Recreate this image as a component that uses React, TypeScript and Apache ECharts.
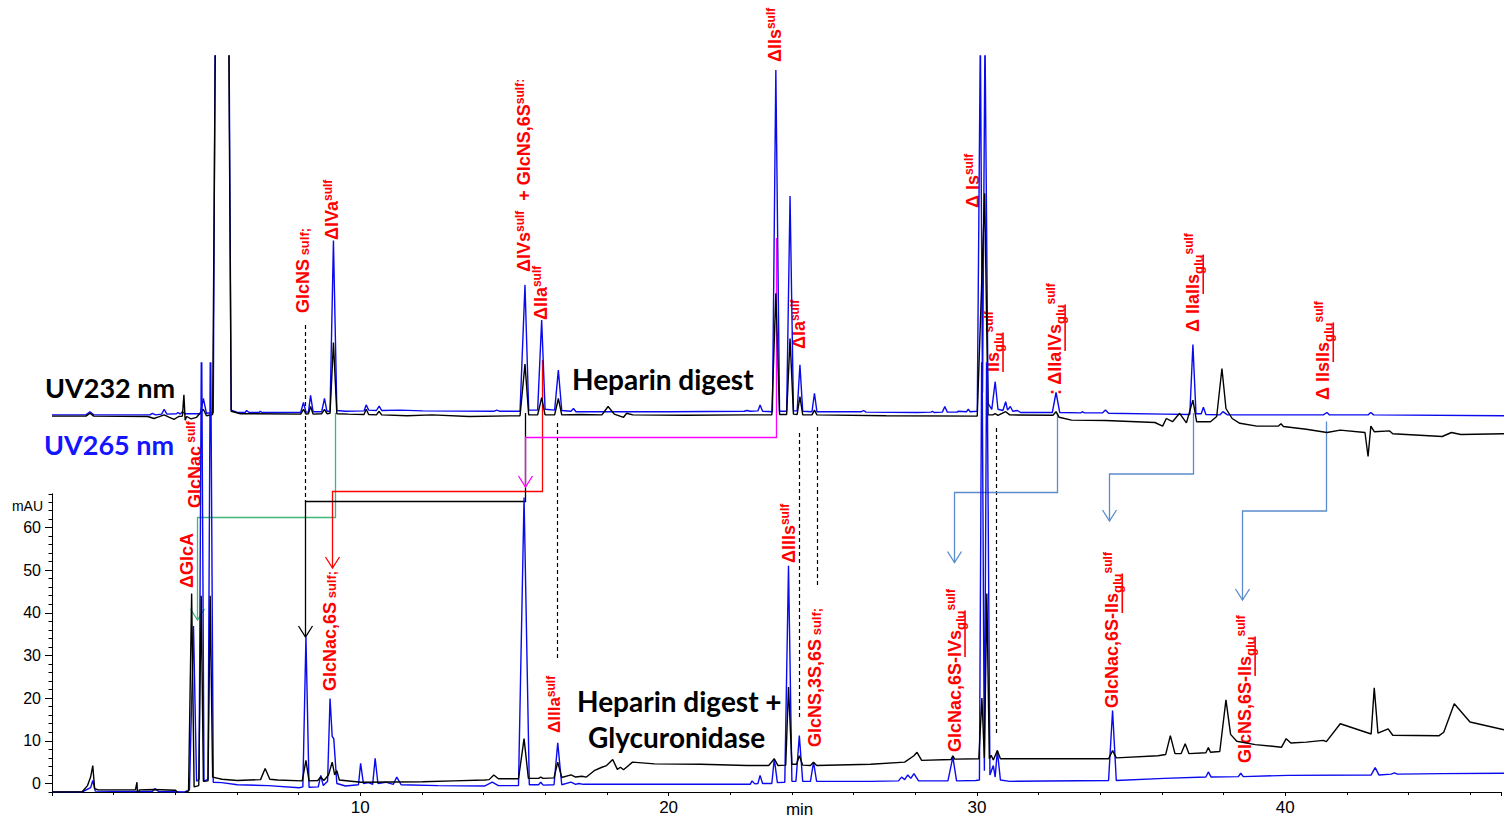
import React, { useEffect, useRef } from "react";
import * as echarts from "echarts";

// Retention-time window (min) shared by both chromatograms
const TIME_MIN = 0;
const TIME_MAX = 47;
const TIME_TICKS = [10, 20, 30, 40];
const MAU_TICKS = [0, 10, 20, 30, 40, 50, 60];

// Heparin digest, UV 232 nm  [time (min), signal]
const digest232: number[][] = [
  [0, -0.9], [1.1, -0.9], [1.23, -0.2], [1.35, -0.9], [3.1, -1.0], [3.3, -1.5], [3.45, -1.1], [3.63, -0.6],
  [3.8, -1.2], [3.95, -1.7], [4.1, -1.0], [4.22, -0.9], [4.27, 4.4], [4.31, -1.9], [4.36, -1.0], [4.5, -1.6],
  [4.68, -1.2], [4.9, 0.8], [5.0, -0.8], [5.2, -0.5], [5.29, 95], [5.72, 95], [5.8, 0.3], [6.1, -0.3],
  [8.05, -0.4], [8.14, 0.8], [8.22, -0.4], [8.3, -0.3], [8.37, 1.5], [8.45, -0.4], [8.73, -0.3], [8.82, 0.8],
  [8.9, -0.3], [9.0, -0.2], [9.11, 17.5], [9.22, -0.3], [9.6, -0.4], [10.1, -0.5], [10.17, 0.8], [10.25, -0.5],
  [10.5, -0.6], [10.59, 0.3], [10.67, -0.6], [11.5, -0.8], [12.3, -0.6], [13.5, -1.0], [15.15, -0.8],
  [15.31, 12.1], [15.43, -0.6], [15.72, -0.6], [15.85, 3.7], [15.96, -0.6], [16.27, -0.6], [16.39, 3.5],
  [16.5, -0.6], [17.1, -0.5], [17.8, -0.6], [18.0, 1.5], [18.2, -0.4], [18.5, -1.2], [18.6, -0.2], [18.8, -0.6],
  [20.5, -0.7], [22.5, -0.6], [23.3, -0.6], [23.43, 29.8], [23.55, -0.5], [23.78, -0.5], [23.89, 18.5],
  [24.0, -0.4], [24.12, -0.5], [24.21, 4.0], [24.3, -0.6], [24.6, -0.6], [24.68, 0.6], [24.76, -0.6],
  [27.0, -0.8], [29.95, -0.9], [30.19, 54.8], [30.3, -0.6], [30.45, -0.6], [30.53, -0.3], [30.62, -0.7],
  [30.87, 0.2], [31.0, -0.6], [32.4, -0.7], [32.5, 0.2], [32.6, -1.2], [33.0, -1.9], [34.1, -2.0], [35.7, -2.5],
  [35.95, -3.4], [36.07, -1.5], [36.27, -2.3], [36.5, -0.2], [36.72, -2.6], [36.93, 3.1], [37.05, -2.3],
  [37.5, -2.3], [37.7, -1.0], [37.87, 11.0], [38.0, 1.0], [38.2, -1.5], [38.45, -2.7], [39.0, -3.4],
  [39.7, -3.4], [39.78, -2.8], [39.86, -3.5], [40.6, -4.2], [41.27, -5.0], [41.7, -4.4], [42.5, -5.0],
  [42.6, -11], [42.69, -3.4], [42.8, -4.8], [43.3, -4.6], [43.4, -5.3], [45.0, -6.0], [45.3, -5.0],
  [45.6, -5.5], [47, -5.3],
];

// Heparin digest, UV 265 nm
const digest265: number[][] = [
  [0, -0.6], [1.1, -0.6], [1.23, 0.2], [1.35, -0.6], [3.17, -0.6], [3.25, -0.2], [3.35, -0.6], [3.55, -0.4],
  [3.63, 0.8], [3.72, -0.4], [4.03, -0.3], [4.08, 0.0], [4.15, -0.4], [4.22, 0.2], [4.3, -0.3], [4.8, -0.3],
  [4.9, 3.5], [5.0, -0.2], [5.22, 0.0], [5.28, 95], [5.73, 95], [5.8, 0.6], [6.0, 0.0], [6.25, 0.0],
  [6.3, 0.5], [6.38, 0.0], [6.7, 0.0], [6.74, 0.3], [6.8, 0.0], [8.05, 0.0], [8.14, 2.5], [8.22, 0.1],
  [8.3, 0.1], [8.37, 4.3], [8.45, 0.2], [8.73, 0.2], [8.82, 3.5], [8.9, 0.3], [9.0, 0.3], [9.11, 43],
  [9.22, 0.5], [9.5, 0.3], [10.1, 0.4], [10.17, 1.9], [10.25, 0.6], [10.5, 0.5], [10.59, 1.6], [10.67, 0.5],
  [11.27, 0.6], [12.0, 0.4], [14.3, 0.3], [14.4, 0.6], [14.5, 0.3], [15.15, 0.3], [15.31, 31.9], [15.43, 0.6],
  [15.72, 0.6], [15.85, 23.1], [15.96, 0.8], [16.27, 0.6], [16.39, 10.6], [16.5, 0.5], [16.8, 0.3],
  [16.88, 1.0], [16.96, 0.2], [18.0, 0.2], [20.0, 0.2], [22.4, 0.3], [22.5, 0.5], [22.6, 0.3], [22.85, 0.4],
  [22.92, 1.9], [23.0, 0.3], [23.32, 0.2], [23.43, 85.6], [23.55, 0.3], [23.78, 0.3], [23.89, 54.1],
  [24.0, 0.4], [24.12, 0.4], [24.21, 11.9], [24.3, 0.3], [24.6, 0.2], [24.68, 4.8], [24.76, 0.2],
  [26.2, 0.2], [26.27, 0.5], [26.35, 0.1], [28.0, 0.0], [28.45, 0.1], [28.5, 0.3], [28.55, 0.0],
  [28.82, 0.1], [28.9, 1.5], [28.98, 0.1], [29.3, 0.1], [29.33, 0.3], [29.6, 0.2], [29.66, 0.8],
  [29.72, 0.2], [29.95, 0.3], [30.05, 95], [30.12, 5], [30.2, 95], [30.3, 2.3], [30.42, 0.8], [30.53, 7.7],
  [30.62, 0.8], [30.78, 0.5], [30.87, 2.7], [30.93, 0.6], [31.02, 1.5], [31.1, 0.3], [31.25, 0.5],
  [31.35, 0.0], [32.38, 0.0], [32.5, 5.0], [32.62, 0.0], [33.3, -0.1], [33.35, 0.2], [33.42, -0.1],
  [34.0, -0.1], [34.1, 0.6], [34.2, -0.2], [36.0, -0.4], [36.83, -0.5], [36.93, 17.0], [37.03, -0.3],
  [37.2, -0.3], [37.27, 1.3], [37.35, -0.5], [37.8, -0.6], [37.9, 0.2], [38.05, -0.6], [41.15, -0.6],
  [41.27, 0.0], [41.35, -0.6], [42.6, -0.6], [42.69, 0.0], [42.78, -0.6], [47, -0.8],
];

// Heparin digest + glycuronidase, UV 232 nm (mAU)
const glycuronidase232: number[][] = [
  [0, -2.0], [0.97, -2.0], [1.15, -0.5], [1.25, 1.5], [1.32, 4.2], [1.38, -1.2], [1.5, -1.5], [2.7, -1.5],
  [2.75, 0.3], [2.78, -4.7], [2.82, -1.5], [3.3, -1.4], [4.0, -1.6], [4.15, -2.8], [4.28, -4.7], [4.32, -2.0],
  [4.42, -1.8], [4.52, 44.5], [4.6, -0.8], [4.75, -0.5], [4.83, 44], [4.9, 0.5], [5.05, 0.6], [5.12, 44],
  [5.2, 1.5], [5.5, 1.0], [6.0, 0.7], [6.75, 0.9], [6.9, 3.5], [7.05, 1.0], [7.3, 0.8], [8.1, 0.6],
  [8.22, 5.4], [8.32, 0.6], [8.6, 0.7], [8.7, 1.5], [8.8, 0.7], [8.95, 2.0], [9.07, 5.0], [9.15, 2.0],
  [9.22, 3.0], [9.3, 0.8], [10.0, 0.3], [12.0, 0.4], [13.0, 0.6], [14.0, 0.8], [14.15, 0.9], [14.3, 2.0],
  [14.45, 1.1], [15.1, 1.1], [15.28, 10.5], [15.42, 1.2], [15.75, 1.2], [15.82, 1.5], [15.9, 1.2],
  [16.25, 1.3], [16.37, 5.0], [16.5, 1.4], [16.8, 2.0], [16.95, 1.5], [17.15, 1.7], [17.3, 1.5],
  [17.55, 3.0], [17.8, 3.8], [17.95, 4.2], [18.15, 5.6], [18.3, 3.3], [18.4, 3.8], [18.5, 3.2], [18.79, 5.0],
  [19.5, 4.6], [21.0, 4.5], [22.5, 4.2], [23.2, 4.2], [23.38, 5.8], [23.5, 4.2], [23.75, 4.3], [23.84, 22.6],
  [23.95, 4.5], [24.1, 4.5], [24.19, 6.5], [24.3, 4.3], [24.55, 4.2], [24.65, 5.0], [24.75, 4.2],
  [26.5, 4.5], [27.6, 5.0], [27.9, 6.5], [28.0, 7.3], [28.15, 5.4], [29.1, 5.6], [29.16, 6.5], [29.22, 5.7],
  [30.0, 5.8], [30.1, 20], [30.18, 6.0], [30.26, 44.5], [30.34, 5.8], [30.4, 6.6], [30.47, 5.5], [30.6, 7.7],
  [30.7, 5.8], [32.0, 5.8], [34.2, 5.8], [34.33, 7.7], [34.45, 6.0], [35.8, 6.5], [36.05, 6.8], [36.2, 11.2],
  [36.35, 7.0], [36.55, 7.0], [36.68, 9.3], [36.8, 7.0], [37.35, 7.2], [37.43, 8.4], [37.5, 7.3], [37.8, 7.5],
  [38.0, 19.6], [38.15, 11.5], [38.35, 9.9], [38.95, 9.1], [39.8, 8.5], [39.95, 10.5], [40.1, 9.5],
  [40.6, 9.7], [41.15, 10.1], [41.25, 9.8], [41.7, 14.0], [42.7, 11.6], [42.8, 22.4], [42.92, 11.8],
  [43.25, 12.8], [43.4, 11.3], [44.9, 11.2], [45.05, 12.0], [45.39, 18.7], [45.9, 14.4], [47, 12.6],
];

// Heparin digest + glycuronidase, UV 265 nm (mAU)
const glycuronidase265: number[][] = [
  [0, -2.0], [0.97, -2.0], [1.25, -1.0], [1.32, 0.7], [1.4, -1.8], [2.5, -1.9], [3.25, -1.9], [3.33, -1.2],
  [3.45, -1.9], [4.3, -2.0], [4.45, -1.5], [4.58, 36.9], [4.68, 0.5], [4.76, 1.0], [4.84, 110], [4.92, 0.5],
  [5.05, 1.0], [5.13, 110], [5.22, 0.3], [5.5, 0.2], [6.0, -0.3], [7.0, -0.5], [8.0, -1.0], [8.12, -0.8],
  [8.22, 34.3], [8.32, -0.9], [8.62, -0.8], [8.7, 1.9], [8.78, -0.5], [8.92, 0.5], [9.0, 19.9], [9.07, 11.0],
  [9.12, 10.5], [9.22, 0.0], [9.5, -0.6], [9.92, -0.3], [9.99, 4.7], [10.08, 0.0], [10.25, 0.2],
  [10.38, -0.2], [10.46, 5.9], [10.55, 0.0], [10.8, 0.3], [11.05, -0.2], [11.16, 1.5], [11.3, -0.3],
  [12.5, -0.5], [14.0, -0.6], [14.25, 0.3], [14.45, -0.5], [15.1, -0.5], [15.28, 67], [15.45, -0.3],
  [15.75, -0.3], [15.82, 0.3], [15.9, -0.4], [16.25, -0.3], [16.37, 9.5], [16.5, -0.3], [16.8, 0.3],
  [16.95, -0.2], [17.05, 0.0], [17.2, -0.2], [20.0, -0.2], [22.6, -0.2], [22.66, 0.6], [22.75, -0.1],
  [22.85, 0.0], [22.92, 1.9], [23.0, 0.0], [23.3, 0.0], [23.38, 5.8], [23.48, 0.2], [23.72, 0.3],
  [23.84, 51], [23.95, 0.5], [24.08, 0.5], [24.19, 11.2], [24.3, 0.5], [24.55, 0.5], [24.65, 5.0],
  [24.75, 0.5], [26.5, 0.5], [27.4, 0.6], [27.5, 1.5], [27.6, 0.9], [27.7, 2.0], [27.8, 1.2], [27.9, 2.3],
  [28.05, 0.6], [29.0, 0.6], [29.16, 6.2], [29.28, 0.6], [29.9, 0.7], [30.02, 0.8], [30.1, 110], [30.18, 3.0],
  [30.26, 110], [30.36, 2.0], [30.47, 4.2], [30.53, 1.5], [30.6, 7.7], [30.7, 0.8], [31.0, 0.5],
  [34.2, 0.7], [34.33, 17.1], [34.45, 0.7], [36.0, 1.2], [37.35, 1.5], [37.43, 2.7], [37.52, 1.5],
  [38.4, 1.6], [38.48, 2.4], [38.56, 1.6], [40.0, 1.9], [42.7, 2.0], [42.83, 3.7], [42.95, 2.0],
  [43.35, 2.2], [43.45, 2.5], [43.55, 2.2], [45.0, 2.3], [47, 2.4],
];

// Peak annotations: [text, kind, underlined]
// kind: m = main, s = small on the baseline, p = superscript, b = subscript
type Seg = [string, "m" | "s" | "p" | "b", boolean?];
type PeakLabel = { chart: 0 | 1; at: number; base: number; size?: number; segs: Seg[] };

const peakLabels: PeakLabel[] = [
  { chart: 1, at: 4.37, base: 588, segs: [["ΔGlcA", "m"]] },
  { chart: 1, at: 4.63, base: 508, segs: [["GlcNac", "m"], [" sulf", "p"]] },
  { chart: 1, at: 9.0, base: 691, segs: [["GlcNac,6S", "m"], [" sulf;", "s"]] },
  { chart: 1, at: 16.28, base: 733, size: 17, segs: [["ΔIIIa", "m"], ["sulf", "p"]] },
  { chart: 1, at: 23.86, base: 563, segs: [["ΔIIIs", "m"], ["sulf", "p"]] },
  { chart: 1, at: 24.7, base: 747, segs: [["GlcNS,3S,6S", "m"], [" sulf;", "s"]] },
  { chart: 1, at: 29.23, base: 752, segs: [["GlcNac,6S-", "m"], ["IVs", "m", true], ["glu", "b", true], ["sulf", "p"]] },
  { chart: 1, at: 34.32, base: 708, segs: [["GlcNac,6S-", "m"], ["IIs", "m", true], ["glu", "b", true], ["sulf", "p"]] },
  { chart: 1, at: 38.62, base: 763, segs: [["GlcNS,6S-", "m"], ["IIs", "m", true], ["glu", "b", true], ["sulf", "p"]] },
  { chart: 0, at: 8.13, base: 313, segs: [["GlcNS", "m"], [" sulf;", "s"]] },
  { chart: 0, at: 9.06, base: 240, segs: [["ΔIVa", "m"], ["sulf", "p"]] },
  { chart: 0, at: 15.28, base: 272, segs: [["ΔIVs", "m"], ["sulf", "p"], ["  + GlcNS,6S", "m"], ["sulf:", "p"]] },
  { chart: 0, at: 15.83, base: 320, segs: [["ΔIIa", "m"], ["sulf", "p"]] },
  { chart: 0, at: 23.41, base: 62, segs: [["ΔIIs", "m"], ["sulf", "p"]] },
  { chart: 0, at: 24.18, base: 349, segs: [["ΔIa", "m"], ["sulf", "p"]] },
  { chart: 0, at: 29.82, base: 208, segs: [["Δ Is", "m"], ["sulf", "p"]] },
  { chart: 0, at: 30.46, base: 372, segs: [["IIs", "m", true], ["glu", "b", true], ["sulf", "p"]] },
  { chart: 0, at: 32.47, base: 395, segs: [[": ΔIIa", "m"], ["IVs", "m", true], ["glu", "b", true], ["sulf", "p"]] },
  { chart: 0, at: 36.94, base: 332, segs: [["Δ IIa", "m"], ["IIs", "m", true], ["glu", "b", true], ["sulf", "p"]] },
  { chart: 0, at: 41.15, base: 400, segs: [["Δ IIs", "m"], ["IIs", "m", true], ["glu", "b", true], ["sulf", "p"]] },
];

// Digest peak -> glycuronidase product arrows (times in min, heights in px)
const GREEN = "#3cb878";
const RED = "#ff0000";
const MAGENTA = "#ff00ff";
const STEEL = "#5b8ccc";
const peakLinks = [
  { from: 9.16, to: 4.68, y0: 413, y1: 517.5, y2: 620, color: GREEN },
  { from: 15.85, to: 9.06, y0: 360, y1: 491.5, y2: 568, color: RED },
  { from: 15.31, to: 8.19, y0: 413, y1: 501.5, y2: 637, color: "#000000" },
  { from: 23.44, to: 15.3, y0: 238, y1: 437.5, y2: 487, color: MAGENTA },
  { from: 32.52, to: 29.2, y0: 413, y1: 492.5, y2: 562.5, color: STEEL },
  { from: 36.92, to: 34.22, y0: 413, y1: 474, y2: 521, color: STEEL },
  { from: 41.24, to: 38.53, y0: 421.5, y1: 511, y2: 600, color: STEEL },
];

// Dashed guides for peaks shared by both runs
const guides = [
  { at: 8.19, y1: 325, y2: 502 },
  { at: 16.35, y1: 423, y2: 660 },
  { at: 24.18, y1: 433, y2: 720 },
  { at: 24.77, y1: 427, y2: 587 },
  { at: 30.55, y1: 428, y2: 735 },
];

const TRACE_BLUE = "#0a0aee";
const LABEL_FAMILY = '"Liberation Sans", Arial, sans-serif';
const TITLE_FAMILY = 'Lato, "Open Sans", sans-serif';

let measureCtx: CanvasRenderingContext2D | null = null;
function textWidth(text: string, font: string): number {
  if (!measureCtx) measureCtx = document.createElement("canvas").getContext("2d");
  if (!measureCtx) return text.length * 9;
  measureCtx.font = font;
  return measureCtx.measureText(text).width;
}

function buildPeakLabel(lbl: PeakLabel, px: number) {
  const children: any[] = [];
  let pos = 0;
  for (const [text, kind, underline] of lbl.segs) {
    const size = kind === "m" ? lbl.size ?? 18 : kind === "p" ? 12 : 13;
    const dy = kind === "m" ? 0 : kind === "s" ? 1.5 : kind === "b" ? 5 : -4;
    const font = `bold ${size}px ${LABEL_FAMILY}`;
    const w = textWidth(text, font);
    children.push({
      type: "text",
      x: pos,
      y: dy,
      silent: true,
      style: {
        text,
        font,
        fill: RED,
        textAlign: "left",
        textVerticalAlign: "middle",
        align: "left",
        verticalAlign: "middle",
      },
    });
    if (underline) {
      children.push({
        type: "rect",
        silent: true,
        shape: { x: pos, y: 9.2, width: w, height: 1.6 },
        style: { fill: RED },
      });
    }
    pos += w;
  }
  return { type: "group", x: px, y: lbl.base, rotation: Math.PI / 2, children };
}

function plainText(text: string, x: number, y: number, font: string, fill: string, align = "left") {
  return {
    type: "text",
    x,
    y,
    silent: true,
    style: { text, font, fill, textAlign: align, align, textVerticalAlign: "middle", verticalAlign: "middle" },
  };
}

const hiddenX = (gridIndex: number) => ({
  type: "value" as const,
  gridIndex,
  min: TIME_MIN,
  max: TIME_MAX,
  show: false,
});

function traceSeries(data: number[][], color: string, idx: number) {
  return {
    type: "line" as const,
    data,
    xAxisIndex: idx,
    yAxisIndex: idx,
    symbol: "none",
    showSymbol: false,
    silent: true,
    clip: true,
    lineStyle: { color, width: 1.4 },
  };
}

export default function App() {
  const ref = useRef<HTMLDivElement>(null);

  useEffect(() => {
    if (!ref.current) return;
    const chart = echarts.init(ref.current, undefined, { renderer: "svg" });

    chart.setOption({
      animation: false,
      backgroundColor: "#ffffff",
      grid: [
        { left: 52, right: 0, top: 56, bottom: 331.5 },
        { left: 52, right: 0, top: 363, bottom: 32 },
        { left: 52, right: 0, top: 494, bottom: 32 },
      ],
      xAxis: [
        hiddenX(0),
        hiddenX(1),
        {
          type: "value",
          gridIndex: 2,
          position: "bottom",
          min: TIME_MIN,
          max: TIME_MAX,
          interval: 10,
          axisLine: { show: true, onZero: false, lineStyle: { color: "#000", width: 1 } },
          axisTick: { show: true, length: 4, lineStyle: { color: "#000" } },
          minorTick: { show: true, splitNumber: 5, length: 3, lineStyle: { color: "#000" } },
          splitLine: { show: false },
          axisLabel: {
            margin: 7,
            fontSize: 17,
            color: "#000",
            fontFamily: LABEL_FAMILY,
            formatter: (v: number) => (TIME_TICKS.includes(v) ? String(v) : ""),
          },
        },
      ],
      yAxis: [
        { type: "value", gridIndex: 0, min: -20, max: 89.125, show: false },
        { type: "value", gridIndex: 1, min: -2, max: 98.54, show: false },
        {
          type: "value",
          gridIndex: 2,
          position: "left",
          min: -2,
          max: 67.84,
          axisLine: { show: true, onZero: false, lineStyle: { color: "#000", width: 1 } },
          axisTick: { show: true, length: 7, customValues: MAU_TICKS, lineStyle: { color: "#000" } },
          axisLabel: {
            customValues: MAU_TICKS,
            margin: 11,
            fontSize: 16,
            color: "#000",
            fontFamily: LABEL_FAMILY,
          },
          splitLine: { show: false },
        },
        {
          type: "value",
          gridIndex: 2,
          position: "left",
          offset: 0,
          min: -2,
          max: 67.84,
          interval: 2,
          axisLine: { show: true, onZero: false, lineStyle: { color: "#000", width: 1 } },
          axisTick: { show: true, length: 3.5, lineStyle: { color: "#000" } },
          axisLabel: { show: false },
          splitLine: { show: false },
        },
      ],
      series: [
        traceSeries(digest265, TRACE_BLUE, 0),
        traceSeries(digest232, "#000000", 0),
        traceSeries(glycuronidase265, TRACE_BLUE, 1),
        traceSeries(glycuronidase232, "#000000", 1),
      ],
    });

    const tx = (t: number) => chart.convertToPixel({ xAxisIndex: 0 }, t) as number;

    const elements: any[] = [];

    for (const g of guides) {
      const x = Math.round(tx(g.at)) + 0.5;
      elements.push({
        type: "line",
        silent: true,
        shape: { x1: x, y1: g.y1, x2: x, y2: g.y2 },
        style: { stroke: "#000", lineWidth: 1.2, lineDash: [4, 3] },
      });
    }

    for (const l of peakLinks) {
      const xf = Math.round(tx(l.from)) + 0.5;
      const xt = Math.round(tx(l.to)) + 0.5;
      elements.push({
        type: "polyline",
        silent: true,
        shape: { points: [[xf, l.y0], [xf, l.y1], [xt, l.y1], [xt, l.y2]] },
        style: { stroke: l.color, lineWidth: 1.3, fill: null },
      });
      elements.push({
        type: "polyline",
        silent: true,
        shape: { points: [[xt - 7, l.y2 - 11], [xt, l.y2], [xt + 7, l.y2 - 11]] },
        style: { stroke: l.color, lineWidth: 1.3, fill: null },
      });
    }

    for (const lbl of peakLabels) {
      elements.push(buildPeakLabel(lbl, tx(lbl.at)));
    }

    const uvFont = `bold 27px ${TITLE_FAMILY}`;
    const titleFont = `bold 28px ${TITLE_FAMILY}`;
    elements.push(plainText("UV232 nm", 45, 387, uvFont, "#000"));
    elements.push(plainText("UV265 nm", 44, 444, uvFont, "#1414ff"));
    elements.push(plainText("Heparin digest", 572, 379, titleFont, "#000"));
    elements.push(plainText("Heparin digest +", 577, 701, titleFont, "#000"));
    elements.push(plainText("Glycuronidase", 588, 737, titleFont, "#000"));
    elements.push(plainText("mAU", 43, 506, `14px ${LABEL_FAMILY}`, "#000", "right"));
    elements.push(plainText("min", tx(24.2), 809, `17px ${LABEL_FAMILY}`, "#000", "center"));

    chart.setOption({ graphic: { elements } });

    return () => chart.dispose();
  }, []);

  return (
    <div
      ref={ref}
      style={{ position: "fixed", left: 0, top: 0, width: "1504px", height: "824px", background: "#fff" }}
    />
  );
}
